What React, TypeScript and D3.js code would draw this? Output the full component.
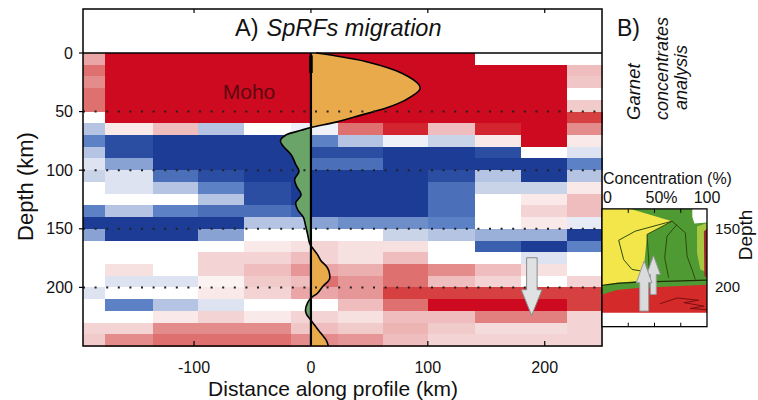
import React from "react";
import * as d3 from "d3";

// ---- Panel A: SpRF migration grid ----
// bin edges along profile (km) and in depth (km)
const profileEdges = [-195, -176, -135, -97, -57, -17, 0, 23, 62, 100, 140, 180, 219, 249];
const depthEdges = [0, 10, 20, 30, 40, 50, 60, 70, 80, 90, 100, 110, 120, 130, 140, 150, 160, 170, 180, 190, 200, 210, 220, 230, 240, 250];

// amplitude class of each cell (-5 strong negative .. +5 strong positive), one row per depth bin
const rfAmp = [
  [2, 5, 5, 5, 5, 5, 5, 5, 5, 5, 0, 0, 0],
  [3, 5, 5, 5, 5, 5, 5, 5, 5, 5, 5, 5, 1.5],
  [2.5, 5, 5, 5, 5, 5, 5, 5, 5, 5, 5, 5, 1.3],
  [3, 5, 5, 5, 5, 5, 5, 5, 5, 5, 5, 5, 0],
  [3, 5, 5, 5, 5, 5, 5, 5, 5, 5, 5, 5, 1.2],
  [0, 5, 5, 5, 5, 5, 5, 5, 5, 5, 5, 5, 4],
  [-2, 0.5, 1.5, -2, 0, -0.5, -0.5, 3, 4.5, 1.5, 4.5, 5, 2.5],
  [-3, -4.5, -5, -5, -5, -5, -3, -2, -0.5, -1.5, 0.5, 5, 0.5],
  [-2, -4.5, -5, -5, -5, -5, -4.5, -4.5, -5, -5, -4.5, 0, -1],
  [-1, -2.5, -5, -5, -5, -5, -3.5, -3.5, -5, -5, -5, -5, -3],
  [-1.5, -1, -3.5, -4.5, -5, -5, -5, -5, -5, -4.5, -2, -5, -2],
  [0, -1, -2, -3, -4.5, -5, -5, -5, -5, -3.5, -1.5, -1.5, 0.5],
  [0, 0, 0, -2, -4.5, -5, -5, -5, -5, -3.5, 0, 0.5, 1.5],
  [-3, -2, -3, -3.5, -3.5, -4, -5, -5, -5, -3.5, 0, 1, 1.5],
  [-5, -5, -5, -5, -2, -2, -2.5, -2.8, -2.8, -3, 0, 0.5, -0.7],
  [-2.5, -5, -5, -2.5, 0, 0, 0, 0, -1.5, -2, -2.3, -2.3, -5],
  [0, 0, 0, 0, 0.5, 0.7, 1, 0.7, 0.7, 0, -4, -5, -3],
  [0, 0, 0, 1, 1, 1.5, 1, 0.7, 1.5, 0, 0, -1, 0],
  [0, 0.7, 0, 1, 1.5, 2.3, 2, 1.8, 3, 2.5, 1.5, 0.7, 0],
  [0, -1, -1, 0.3, 1.2, 1.5, 3, 2.3, 3, 1.5, 1, 0, 1],
  [-1, 0, 0, 0.5, 1, 2, 2, 2.3, 4, 4, 4, 4, 4],
  [0, -3, -2, -1, 0, 0, 0, 1.5, 3, 5, 5, 5, 4],
  [0, 0, 0.5, 1, 0.5, 1, 1, 0.7, 1.5, 1.5, 2.7, 2.7, 1],
  [1, 1, 2.5, 2.5, 2.5, 1.3, 1.5, 1.2, 1.7, 1.2, 0.8, 0.8, 1],
  [1.2, 2.5, 3, 3, 3, 2.5, 2.5, 2.3, 1.5, 1, 1, 1, 1],
];

const xTicks = [-100, 0, 100, 200];
const depthTicks = [0, 50, 100, 150, 200];
const dottedDepths = [50, 100, 150, 200];

// stacked receiver function trace at x = 0 (depth km, relative amplitude %)
const traceDepth = [0, 1.7, 7.4, 17, 27, 31, 40, 47, 53, 59, 63.5, 66, 70, 75, 80, 87, 95, 101, 108, 114, 121, 128, 134, 140, 147, 155, 163, 167, 172, 177, 183, 188, 193, 199, 205, 209, 213, 219, 223, 228, 233, 239, 245, 250];
const traceAmp = [5, 18, 51, 83, 99, 100, 87, 69, 46, 23, 0, -9, -23, -28, -25, -18, -14, -11, -15, -13, -9, -14, -12, -7, -5, -3, -1, 2, 6, 9, 15, 17, 17, 11, 6, 0, -3, -5, -4, 0, 4, 9, 14, 16];

// down arrow in panel A (km along profile, depth km)
const arrowA = [[184.5, 174.7], [193.5, 174.7], [193.5, 202], [197.7, 202], [188.8, 224], [179.9, 202], [184.5, 202]];

// ---- Panel B: garnet concentrates (concentration %, depth km) ----
const bDepthRange = [133, 233.5];
const bConcTicks = [25, 50, 75];
const bDepthTicks = [150, 200];
const yellowPoly = [[0, 133], [27, 133], [66.7, 143.5], [42.9, 154.8], [41.3, 170.5], [39.7, 184.7], [34.9, 194.6], [14.3, 196], [0, 198.9]];
const lightGreenPoly = [[90.5, 148], [100, 145], [100, 187], [93.6, 184.7], [90.5, 170.4]];
const whiteCorner = [[86, 133], [100, 133], [100, 144.7], [88, 145.5], [86, 140]];
const maroonStrip = [[97, 152], [100, 150], [100, 192], [97.5, 190]];
const redPoly = [[0, 206], [14.3, 202.3], [36.5, 200.3], [59, 199.4], [100, 197.7], [100, 221.7], [0, 221.7]];
const bandLine = [[0, 198.3], [14.3, 196.6], [34.9, 195.5], [59, 194.9], [100, 193.8]];
const innerLines = [
  [[66.7, 143.5], [31.7, 152], [15.9, 159.8], [20.6, 176.3], [28.6, 184.7], [38.1, 186.1]],
  [[66.7, 143.5], [42.9, 154.8], [44, 170], [45, 185]],
  [[66.7, 143.5], [79.4, 153.4], [81, 173.3], [85.7, 184.7], [88.9, 193.2]],
  [[71.3, 146.4], [61.9, 156.3], [59.7, 174.8], [63.5, 191.8]],
];
const redZigzag = [[55, 214], [72, 209], [92, 211], [78, 213], [97, 216], [84, 218], [100, 219]];
const arrowsB = [
  [[46, 206], [51.7, 206], [51.7, 189], [55.6, 189], [49, 173], [42.6, 189], [46, 189]],
  [[35.9, 220.2], [44.4, 220.2], [44.4, 196], [47.6, 196], [40.1, 177.4], [32.7, 196], [35.9, 196]],
];

const FONT = "'Liberation Sans', Arial, Helvetica, sans-serif";

export default function App() {
  const x = d3.scaleLinear().domain([-195, 249]).range([83, 602]);
  const y = d3.scaleLinear().domain([0, 250]).range([53, 346]);
  const color = d3
    .scaleLinear<string>()
    .domain([-5, -4, -3, -2, -1, 0, 1, 2, 3, 4, 5])
    .range(["#1d3c96", "#3a5fae", "#5c81c4", "#b4c4e2", "#dde3f0", "#ffffff", "#f3d3d3", "#eaa6a6", "#de7070", "#d64040", "#cd0a1f"])
    .clamp(true);
  const amp = d3.scaleLinear().domain([0, 100]).range([0, 109]);
  const x0 = x(0);

  const trace = traceDepth.map((d, i) => [d, traceAmp[i]] as [number, number]);
  const traceArea = d3
    .area<[number, number]>()
    .y((d) => y(d[0]))
    .x0(x0)
    .x1((d) => x0 + amp(d[1]))
    .curve(d3.curveCatmullRom);
  const traceLine = d3
    .line<[number, number]>()
    .y((d) => y(d[0]))
    .x((d) => x0 + amp(d[1]))
    .curve(d3.curveCatmullRom);

  const polyA = (pts: number[][]) => d3.line()(pts.map((p) => [x(p[0]), y(p[1])] as [number, number])) + "Z";

  // panel B scales share the depth scale of panel A
  const bx = d3.scaleLinear().domain([0, 100]).range([602, 707]);
  const bPoly = (pts: number[][]) => d3.line()(pts.map((p) => [bx(p[0]), y(p[1])] as [number, number])) + "Z";
  const bLine = (pts: number[][]) => d3.line()(pts.map((p) => [bx(p[0]), y(p[1])] as [number, number])) || "";

  const top = 9;
  const plotTop = y(0);
  const plotBottom = y(250);
  const left = x.range()[0];
  const right = x.range()[1];
  const bTop = y(bDepthRange[0]);
  const bBottom = y(bDepthRange[1]);

  return (
    <svg width={758} height={400} style={{ position: "absolute", left: 0, top: 0, background: "#fff" }} fontFamily={FONT}>
      <defs>
        <clipPath id="clipRight">
          <rect x={x0} y={plotTop} width={right - x0} height={plotBottom - plotTop} />
        </clipPath>
        <clipPath id="clipLeft">
          <rect x={left} y={plotTop} width={x0 - left} height={plotBottom - plotTop} />
        </clipPath>
        <clipPath id="clipB">
          <rect x={bx(0)} y={bTop} width={bx(100) - bx(0)} height={bBottom - bTop} />
        </clipPath>
      </defs>

      {/* heat map */}
      <g shapeRendering="crispEdges">
        {rfAmp.map((row, r) =>
          row.map((v, c) => (
            <rect
              key={`${r}-${c}`}
              x={x(profileEdges[c])}
              y={y(depthEdges[r])}
              width={x(profileEdges[c + 1]) - x(profileEdges[c]) + 0.5}
              height={y(depthEdges[r + 1]) - y(depthEdges[r]) + 0.5}
              fill={color(v)}
            />
          ))
        )}
      </g>

      <text x={x(-53)} y={y(39.6)} fontSize={21} fill="#5e0810" textAnchor="middle">
        Moho
      </text>

      {/* stacked trace */}
      <path d={traceArea(trace) || ""} fill="#e9aa4c" clipPath="url(#clipRight)" />
      <path d={traceArea(trace) || ""} fill="#6ba468" clipPath="url(#clipLeft)" />
      <path d={traceLine(trace) || ""} fill="none" stroke="#000" strokeWidth={1.6} />

      {/* dotted depth lines */}
      {dottedDepths.map((d) => (
        <line key={d} x1={left} x2={right} y1={y(d)} y2={y(d)} stroke="#222" strokeWidth={2} strokeDasharray="2 9.6" />
      ))}

      {/* zero line */}
      <line x1={x0} x2={x0} y1={plotTop} y2={plotBottom} stroke="#000" strokeWidth={2.2} />
      <line x1={x0} x2={x0} y1={y(2)} y2={y(17)} stroke="#000" strokeWidth={3.6} />

      {/* arrow panel A */}
      <path d={polyA(arrowA)} fill="#dfe1e3" stroke="#8a8a8a" strokeWidth={1} />

      {/* frame panel A */}
      <rect x={left} y={top} width={right - left} height={plotBottom - top} fill="none" stroke="#000" strokeWidth={1.5} />
      <line x1={left} x2={right} y1={plotTop} y2={plotTop} stroke="#000" strokeWidth={1.5} />
      {xTicks.map((t) => (
        <g key={t}>
          <line x1={x(t)} x2={x(t)} y1={top} y2={top + 4} stroke="#000" strokeWidth={1.2} />
          <line x1={x(t)} x2={x(t)} y1={plotBottom} y2={plotBottom - 5} stroke="#000" strokeWidth={1.2} />
          <text x={x(t)} y={372.5} fontSize={16} textAnchor="middle" fill="#111">
            {t}
          </text>
        </g>
      ))}
      {depthTicks.map((t) => (
        <g key={t}>
          <line x1={left - 4} x2={left} y1={y(t)} y2={y(t)} stroke="#000" strokeWidth={1.2} />
          <text x={73} y={y(t) + 5.5} fontSize={16} textAnchor="end" fill="#111">
            {t}
          </text>
        </g>
      ))}

      <text x={333} y={395.5} fontSize={21} textAnchor="middle" fill="#111">
        Distance along profile (km)
      </text>
      <text transform="translate(33,186.5) rotate(-90)" fontSize={22} textAnchor="middle" fill="#111">
        Depth (km)
      </text>

      <text x={235} y={35.5} fontSize={23.5} fill="#111">
        A)
        <tspan dx={8} fontStyle="italic">
          SpRFs migration
        </tspan>
      </text>

      {/* ---- Panel B ---- */}
      <text x={617} y={35.5} fontSize={23} fill="#111">
        B)
      </text>
      <text transform="translate(640,120) rotate(-90)" fontSize={18.5} fontStyle="italic" fill="#111">
        Garnet
      </text>
      <text transform="translate(668,120) rotate(-90)" fontSize={18} fontStyle="italic" fill="#111">
        concentrates
      </text>
      <text transform="translate(687,110) rotate(-90)" fontSize={18} fontStyle="italic" fill="#111">
        analysis
      </text>

      <text x={603} y={184} fontSize={16} fill="#111">
        Concentration (%)
      </text>
      <text x={bx(0) + 1} y={203} fontSize={16} fill="#111">
        0
      </text>
      <text x={bx(50) - 9} y={203} fontSize={16} fill="#111">
        50%
      </text>
      <text x={bx(100)} y={203} fontSize={16} textAnchor="middle" fill="#111">
        100
      </text>

      <g clipPath="url(#clipB)">
        <rect x={bx(0)} y={bTop} width={bx(100) - bx(0)} height={bBottom - bTop} fill="#fff" />
        <rect x={bx(0)} y={bTop} width={bx(100) - bx(0)} height={y(206) - bTop} fill="#4f9a32" />
        <path d={bPoly(yellowPoly)} fill="#f2e64a" />
        <path d={bPoly(lightGreenPoly)} fill="#a7c83e" />
        <path d={bPoly(whiteCorner)} fill="#fff" />
        <path d={bPoly(maroonStrip)} fill="#9c2a2a" />
        {innerLines.map((l, i) => (
          <path key={i} d={bLine(l)} fill="none" stroke="#2e4a0e" strokeWidth={1} />
        ))}
        <path d={bPoly(redPoly)} fill="#d42a2a" />
        <path d={bLine(bandLine)} fill="none" stroke="#1f3008" strokeWidth={1.4} />
        <path d={bLine(redZigzag)} fill="none" stroke="#7a1010" strokeWidth={1} />
        {arrowsB.map((a, i) => (
          <path key={i} d={bPoly(a)} fill="#d9dbdd" stroke="#9a9a9a" strokeWidth={1} />
        ))}
      </g>
      <rect x={bx(0)} y={bTop} width={bx(100) - bx(0)} height={bBottom - bTop} fill="none" stroke="#000" strokeWidth={1.3} />
      {bConcTicks.map((t) => (
        <g key={t}>
          <line x1={bx(t)} x2={bx(t)} y1={bTop} y2={bTop + 4} stroke="#000" strokeWidth={1} />
          <line x1={bx(t)} x2={bx(t)} y1={bBottom} y2={bBottom - 4} stroke="#000" strokeWidth={1} />
        </g>
      ))}
      {bDepthTicks.map((t) => (
        <text key={t} x={715} y={y(t) + 5} fontSize={15} fill="#111">
          {t}
        </text>
      ))}
      <text transform="translate(752,235) rotate(-90)" fontSize={19} textAnchor="middle" fill="#111">
        Depth
      </text>
    </svg>
  );
}
